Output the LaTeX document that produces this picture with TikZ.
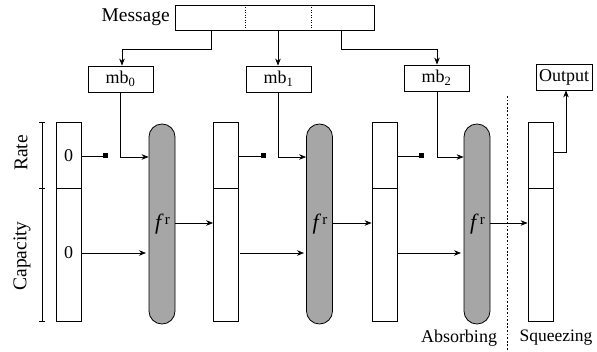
\documentclass[tikz,border=0pt]{standalone}
\usepackage{fontspec}
\setmainfont{Liberation Serif}
\usetikzlibrary{arrows.meta}
\begin{document}
\begin{tikzpicture}[x=1pt,y=-1pt,
  txt/.style={font=\fontsize{18}{20}\selectfont, inner sep=0pt},
  bigtxt/.style={font=\fontsize{19.5}{22}\selectfont, inner sep=0pt},
  boxl/.style={draw, line width=0.8pt, minimum width=65pt, minimum height=26pt, inner sep=0pt, font=\fontsize{18}{20}\selectfont},
  cell/.style={draw, line width=0.8pt, minimum width=25pt, inner sep=0pt},
  pill/.style={draw, line width=0.8pt, fill=black!35, rounded corners=12.9pt, minimum width=26pt, minimum height=200pt, inner sep=0pt},
  flab/.style={font=\fontsize{22}{24}\selectfont, inner sep=0pt},
  conn/.style={line width=0.7pt},
  arr/.style={conn, -{Stealth[length=7pt,width=5.5pt]}},
  sq/.style={fill=black, minimum size=5pt, inner sep=0pt}
]
\useasboundingbox (0,0) rectangle (597,352);

% Message
\node[draw, line width=0.8pt, minimum width=199pt, minimum height=25pt, inner sep=0pt] (msg) at (274.5,17.5) {};
\draw[dotted, line width=0.5pt] (245,5) -- (245,30);
\draw[dotted, line width=0.5pt] (311,5) -- (311,30);
\node[bigtxt, anchor=east] (msgl) at (170,17) {Message};

% mb boxes
\node[boxl] (mb0) at (120.5,79) {mb\textsubscript{0}};
\node[boxl] (mb1) at (278.5,79) {mb\textsubscript{1}};
\node[boxl] (mb2) at (436.5,78) {mb\textsubscript{2}};
\node[draw, line width=0.8pt, minimum width=56pt, minimum height=26pt, inner sep=0pt, font=\fontsize{18}{20}\selectfont] (out) at (564,77) {Output};

% state cells
\foreach \n/\x in {1/68.5, 2/226, 3/384.5, 4/540.5}{
  \node[cell, minimum height=66pt] (r\n) at (\x,155) {};
  \node[cell, minimum height=133pt] (c\n) at (\x,254.5) {};
}
\node[txt] (z1) at (68.5,156) {0};
\node[txt] (z2) at (68.5,253) {0};

% pills
\foreach \n/\x in {1/162, 2/319.5, 3/477}{
  \node[pill] (p\n) at (\x,224) {};
  \node[flab] (f\n) at (\x+0.5,224) {\textit{f}\kern1pt\raisebox{0.5ex}{\fontsize{15}{16}\selectfont r}};
}

% squares
\node[sq] (s1) at (105.5,156) {};
\node[sq] (s2) at (263.5,156) {};
\node[sq] (s3) at (421.5,156) {};
\draw[conn] (81,156) -- (s1.center);
\draw[conn] (239,156) -- (s2.center);
\draw[conn] (397,156) -- (s3.center);

% message to mb
\draw[arr] (211,30) -- (211,49) -- (122,49) -- (mb0.north -| 122,0);
\draw[arr] (278,30) -- (mb1.north -| 278,0);
\draw[arr] (341,30) -- (341,49) -- (437,49) -- (mb2.north -| 437,0);

% mb to pills
\draw[arr] (mb0.south -| 120,0) -- (120,157) -- (p1.west |- 0,157);
\draw[arr] (mb1.south -| 278,0) -- (278,157) -- (p2.west |- 0,157);
\draw[arr] (mb2.south -| 437,0) -- (437,157) -- (p3.west |- 0,157);

% capacity arrows
\draw[arr] (82,253) -- (146,253);
\draw[arr] (240,253) -- (304,253);
\draw[arr] (398,253) -- (461,253);

% pill outputs
\draw[arr] (p1.east |- 0,223) -- (c2.west |- 0,223);
\draw[arr] (p2.east |- 0,223) -- (c3.west |- 0,223);
\draw[arr] (p3.east |- 0,223) -- (c4.west |- 0,223);

% output
\draw[arr] (r4.east |- 0,152) -- (566,152) -- (out.south -| 566,0);

% bracket
\draw[line width=0.5pt] (42,122) -- (42,321);
\draw[line width=0.5pt] (39,122) -- (45,122);
\draw[line width=0.5pt] (39,188) -- (45,188);
\draw[line width=0.5pt] (39,321) -- (45,321);
\node[bigtxt, rotate=90] (rate) at (21,153) {Rate};
\node[bigtxt, rotate=90] (cap) at (22,256) {Capacity};

% separator
\draw[line width=0.6pt, dash pattern=on 1.8pt off 1.8pt] (507,96) -- (507,352);
\node[txt] (abs) at (459,338) {Absorbing};
\node[txt, font=\fontsize{17.5}{20}\selectfont] (sqz) at (556,338) {Squeezing};
\end{tikzpicture}
\end{document}
